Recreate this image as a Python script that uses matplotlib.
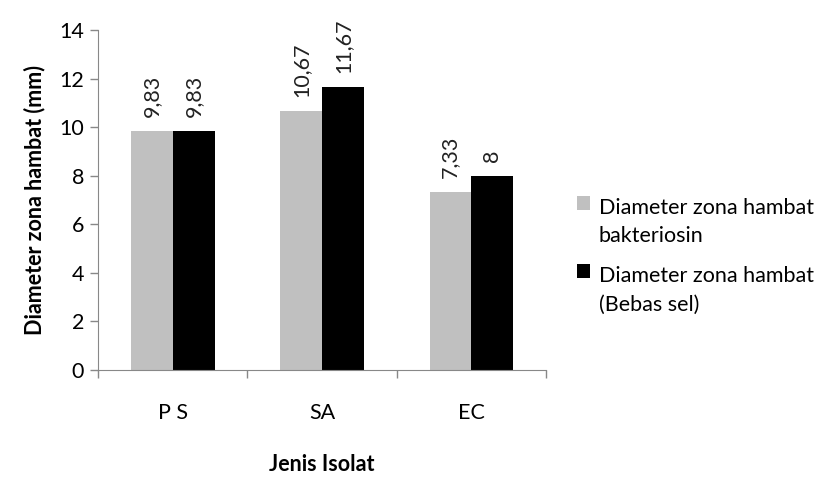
import matplotlib
matplotlib.use("Agg")
import matplotlib.pyplot as plt
import numpy as np
from matplotlib.patches import Rectangle
from matplotlib.legend_handler import HandlerPatch, update_from_first_child
from matplotlib.container import BarContainer

categories = ["P S", "SA", "EC"]
series_names = ["Diameter zona hambat\nbakteriosin", "Diameter zona hambat\n(Bebas sel)"]
bakteriosin = [9.83, 10.67, 7.33]
bebas_sel = [9.83, 11.67, 8.0]
labels_bakteriosin = ["9,83", "10,67", "7,33"]
labels_bebas_sel = ["9,83", "11,67", "8"]
colors = ["#C0C0C0", "#000000"]

plt.rcParams["font.family"] = ["Lato", "DejaVu Sans"]
FS = 15.5

fig = plt.figure(figsize=(8.19, 4.8), dpi=100)
ax = fig.add_axes([0.1197, 0.229, 0.547, 0.7085])

x = np.arange(len(categories))
w = 0.28
b1 = ax.bar(x - w / 2, bakteriosin, w, color=colors[0], label=series_names[0])
b2 = ax.bar(x + w / 2, bebas_sel, w, color=colors[1], label=series_names[1])

for bars, labs in ((b1, labels_bakteriosin), (b2, labels_bebas_sel)):
    for rect, lab in zip(bars, labs):
        ax.annotate(lab, (rect.get_x() + rect.get_width() / 2, rect.get_height()),
                    xytext=(0, 10), textcoords="offset points", rotation=90,
                    ha="center", va="bottom", fontsize=FS, color="#222222")

ax.set_xlim(-0.5, len(categories) - 0.5)
ax.set_ylim(0, 14)
ax.set_yticks(range(0, 15, 2))
ax.set_xticks(x)
ax.set_xticklabels(categories, fontsize=FS)
ax.set_xticks(np.arange(-0.5, len(categories), 1), minor=True)
ax.tick_params(axis="x", which="major", length=0, pad=24)
ax.tick_params(axis="x", which="minor", length=6, color="#888888", width=1)
ax.tick_params(axis="y", labelsize=FS, length=6, color="#888888", width=1, pad=4)
for s in ["top", "right"]:
    ax.spines[s].set_visible(False)
for s in ["left", "bottom"]:
    ax.spines[s].set_color("#888888")

ax.set_ylabel("Diameter zona hambat (mm)", fontsize=FS, fontweight="bold", labelpad=10)
ax.set_xlabel("Jenis Isolat", fontsize=FS, fontweight="bold", labelpad=22)


def first_line_patch(legend, orig_handle, xdescent, ydescent, width, height, fontsize):
    return Rectangle((-xdescent, -ydescent + fontsize * 0.92), width, height)


leg = ax.legend(loc="center left", bbox_to_anchor=(1.05, 0.335), frameon=False,
                fontsize=FS, handlelength=0.6, handleheight=0.6, handletextpad=0.4,
                labelspacing=0.9, borderaxespad=0,
                handler_map={BarContainer: HandlerPatch(patch_func=first_line_patch,
                                                        update_func=update_from_first_child)})
for t in leg.get_texts():
    t.set_linespacing(1.55)

fig.savefig("out.png", dpi=100)
